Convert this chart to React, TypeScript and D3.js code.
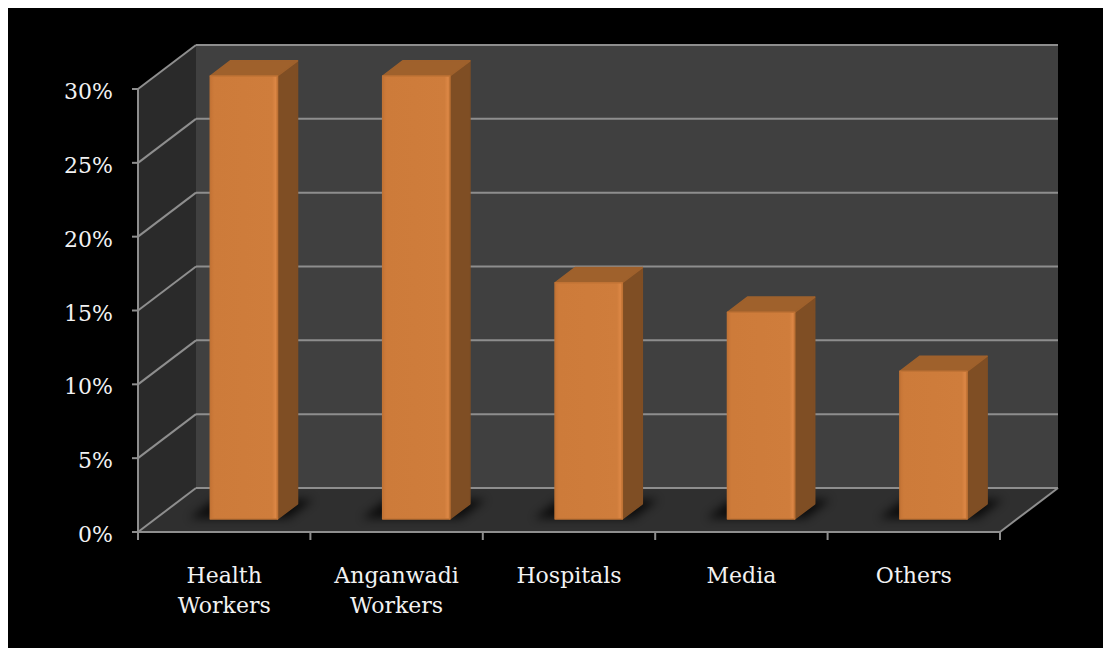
import React from "react";
import * as d3 from "d3";

const categories: string[][] = [
  ["Health", "Workers"],
  ["Anganwadi", "Workers"],
  ["Hospitals"],
  ["Media"],
  ["Others"],
];
const values: number[] = [0.3, 0.3, 0.16, 0.14, 0.1];
const yTicks: number[] = [0, 0.05, 0.1, 0.15, 0.2, 0.25, 0.3];

export default function App() {
  const x0 = 138;
  const x1 = 1000;
  const depthX = 58;
  const depthY = -44;
  const y = d3.scaleLinear().domain([0, 0.3]).range([532, 89]);
  const x = d3
    .scaleBand<number>()
    .domain(categories.map((_, i) => i))
    .range([x0, x1])
    .paddingInner(0)
    .paddingOuter(0);
  const bw = x.bandwidth();
  const fmt = d3.format(".0%");

  const zFront = 0.295;
  const zBack = 0.64;
  const barLeftFrac = 0.32;
  const barWFrac = 0.39;

  const pt = (px: number, py: number, z: number) => [px + z * depthX, py + z * depthY];
  const poly = (pts: number[][]) => pts.map((p) => p.join(",")).join(" ");

  const gridColor = "#8e8e8e";

  return (
    <svg
      width={1103}
      height={648}
      style={{ position: "fixed", left: 0, top: 0 }}
      xmlns="http://www.w3.org/2000/svg"
    >
      <defs>
        <filter id="shadowBlur" x="-50%" y="-50%" width="200%" height="200%">
          <feGaussianBlur stdDeviation="5" />
        </filter>
        <linearGradient id="frontGrad" x1="0" x2="1" y1="0" y2="0">
          <stop offset="0" stopColor="#c57436" />
          <stop offset="0.06" stopColor="#cd7b3a" />
          <stop offset="0.92" stopColor="#cf7d3c" />
          <stop offset="0.97" stopColor="#dc8745" />
          <stop offset="1" stopColor="#c97a3b" />
        </linearGradient>
      </defs>
      <rect x={0} y={0} width={1103} height={648} fill="#ffffff" />
      <rect x={8} y={8} width={1095} height={640} fill="#000000" />

      {/* back wall */}
      <rect
        x={x0 + depthX}
        y={y(0.3) + depthY}
        width={x1 - x0}
        height={y(0) - y(0.3)}
        fill="#404040"
      />
      {/* left wall */}
      <polygon
        points={poly([
          [x0, y(0)],
          [x0, y(0.3)],
          pt(x0, y(0.3), 1),
          pt(x0, y(0), 1),
        ])}
        fill="#2a2a2a"
      />
      {/* floor */}
      <polygon
        points={poly([
          [x0, y(0)],
          [x1, y(0)],
          pt(x1, y(0), 1),
          pt(x0, y(0), 1),
        ])}
        fill="#2f2f2f"
      />

      {/* gridlines */}
      {yTicks.map((t) => (
        <g key={"g" + t}>
          <line
            x1={x0}
            y1={y(t)}
            x2={x0 + depthX}
            y2={y(t) + depthY}
            stroke={gridColor}
            strokeWidth={2}
          />
          <line
            x1={x0 + depthX}
            y1={y(t) + depthY}
            x2={x1 + depthX}
            y2={y(t) + depthY}
            stroke={gridColor}
            strokeWidth={2}
          />
        </g>
      ))}
      {/* floor right edge */}
      <line x1={x1} y1={y(0)} x2={x1 + depthX} y2={y(0) + depthY} stroke={gridColor} strokeWidth={2} />

      {/* shadows */}
      {values.map((v, i) => {
        const left = (x(i) as number) + bw * barLeftFrac;
        const w = bw * barWFrac;
        const a = pt(left - 22, y(0), zFront + 0.02);
        const b = pt(left + w + 10, y(0), zFront + 0.02);
        const c = pt(left + w + 10, y(0), zBack + 0.1);
        const d = pt(left - 22, y(0), zBack + 0.1);
        return (
          <polygon
            key={"s" + i}
            points={poly([a, b, c, d])}
            fill="#000"
            opacity={0.75}
            filter="url(#shadowBlur)"
          />
        );
      })}

      {/* bars */}
      {values.map((v, i) => {
        const left = (x(i) as number) + bw * barLeftFrac;
        const w = bw * barWFrac;
        const fTL = pt(left, y(v), zFront);
        const fTR = pt(left + w, y(v), zFront);
        const fBR = pt(left + w, y(0), zFront);
        const fBL = pt(left, y(0), zFront);
        const bTL = pt(left, y(v), zBack);
        const bTR = pt(left + w, y(v), zBack);
        const bBR = pt(left + w, y(0), zBack);
        return (
          <g key={"b" + i} strokeLinejoin="round">
            <polygon points={poly([fTR, bTR, bBR, fBR])} fill="#7f4e24" stroke="#7f4e24" strokeWidth={1.5} />
            <polygon points={poly([fTL, bTL, bTR, fTR])} fill="#9f612c" stroke="#9f612c" strokeWidth={1.5} />
            <polygon
              points={poly([fTL, fTR, fBR, fBL])}
              fill="url(#frontGrad)"
              stroke="#c07335"
              strokeWidth={1.5}
            />
          </g>
        );
      })}

      {/* y axis */}
      <line x1={x0} y1={y(0.3)} x2={x0} y2={y(0)} stroke={gridColor} strokeWidth={2} />
      {yTicks.map((t) => (
        <g key={"yt" + t}>
          <line x1={x0 - 6} y1={y(t)} x2={x0} y2={y(t)} stroke={gridColor} strokeWidth={2} />
          <text
            x={113}
            y={y(t) + 10}
            textAnchor="end"
            fill="#f2f2f2"
            fontFamily="'DejaVu Serif', serif"
            fontSize={22}
          >
            {fmt(t)}
          </text>
        </g>
      ))}

      {/* x axis */}
      <line x1={x0} y1={y(0)} x2={x1} y2={y(0)} stroke={gridColor} strokeWidth={2} />
      {[...categories.map((_, i) => x(i) as number), x1].map((tx, i) => (
        <line key={"xt" + i} x1={tx} y1={y(0)} x2={tx} y2={y(0) + 8} stroke={gridColor} strokeWidth={2} />
      ))}
      {categories.map((lines, i) => (
        <text
          key={"xl" + i}
          x={(x(i) as number) + bw / 2}
          y={583}
          textAnchor="middle"
          fill="#f2f2f2"
          fontFamily="'DejaVu Serif', serif"
          fontSize={22}
        >
          {lines.map((l, j) => (
            <tspan key={j} x={(x(i) as number) + bw / 2} dy={j === 0 ? 0 : 30}>
              {l}
            </tspan>
          ))}
        </text>
      ))}
    </svg>
  );
}
